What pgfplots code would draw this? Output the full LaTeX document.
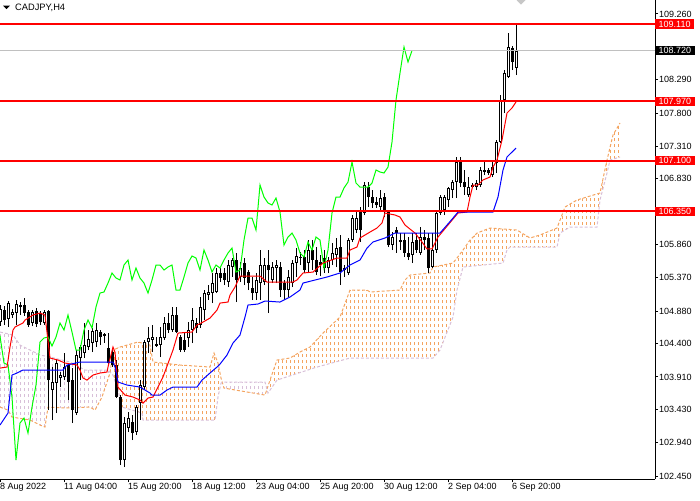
\documentclass[border=0pt]{standalone}
\usepackage{fontspec}
\setmainfont{Liberation Sans}
\usepackage{pgfplots}
\usepackage{pgfplotstable}
\pgfplotsset{compat=1.18}
\usepgfplotslibrary{fillbetween}
\definecolor{sandy}{RGB}{244,164,96}
\definecolor{thistleC}{RGB}{216,191,216}
\definecolor{limeC}{RGB}{0,255,0}
\definecolor{bidgray}{RGB}{192,192,192}
\definecolor{mtred}{RGB}{255,0,0}
\definecolor{mtblue}{RGB}{0,0,255}
\tikzset{hatch/.style={path picture={
  \foreach \k in {0,...,165} {
    \draw[#1, line width=1pt, dash pattern=on 3pt off 3pt]
      ([xshift={4pt*\k}]path picture bounding box.south west) -- ([xshift={4pt*\k}]path picture bounding box.north west);
  }}}}

\pgfplotstableread{
i o h l c
0 104.719 104.970 104.660 104.911
1 104.896 104.955 104.675 104.749
2 104.764 105.029 104.646 104.999
3 104.823 104.911 104.778 104.867
4 104.852 105.044 104.675 104.985
5 104.941 105.014 104.823 104.970
6 104.970 105.073 104.808 104.852
7 104.867 104.896 104.646 104.675
8 104.705 104.896 104.660 104.867
9 104.882 104.926 104.646 104.690
10 104.852 104.882 104.675 104.719
11 104.705 104.896 104.675 104.867
12 104.882 104.896 103.422 103.864
13 103.717 104.056 103.275 103.835
14 103.820 104.159 103.378 104.115
15 103.894 103.982 103.761 103.938
16 103.909 104.262 103.864 104.056
17 104.086 104.115 103.570 103.835
18 103.864 104.041 103.231 103.422
19 103.378 104.307 103.348 104.233
20 104.189 104.380 103.864 104.351
21 104.262 104.705 104.189 104.380
22 104.351 104.601 104.307 104.469
23 104.410 104.631 104.277 104.587
24 104.425 104.705 104.351 104.601
25 104.572 104.601 104.380 104.498
26 104.543 104.557 104.410 104.513
27 104.336 104.557 104.086 104.115
28 104.277 104.336 104.056 104.086
29 104.086 104.159 103.599 103.614
30 103.614 103.643 102.611 102.685
31 102.685 103.319 102.582 103.231
32 103.157 103.393 103.098 103.304
33 103.245 103.348 102.980 103.083
34 103.098 103.496 103.054 103.466
35 103.525 103.864 103.275 103.791
36 103.761 104.454 103.717 104.425
37 104.425 104.646 104.262 104.484
38 104.454 104.675 104.277 104.498
39 104.395 104.498 104.351 104.366
40 104.380 104.646 104.204 104.498
41 104.484 104.793 104.454 104.705
42 104.705 104.852 104.557 104.601
43 104.601 104.941 104.572 104.823
44 104.823 104.941 104.557 104.572
45 104.498 104.528 104.277 104.307
46 104.454 104.572 104.277 104.307
47 104.484 104.719 104.351 104.601
48 104.601 104.926 104.410 104.749
49 104.705 104.778 104.557 104.631
50 104.675 105.088 104.631 104.941
51 104.896 105.191 104.749 105.147
52 105.117 105.265 105.044 105.162
53 105.147 105.442 104.999 105.294
54 105.162 105.515 105.147 105.442
55 105.442 105.515 105.309 105.368
56 105.442 105.515 105.265 105.339
57 105.309 105.633 105.235 105.560
58 105.530 105.663 105.383 105.633
59 105.633 105.737 105.014 105.339
60 105.383 105.604 105.309 105.515
61 105.589 105.663 105.265 105.368
62 105.456 105.486 105.191 105.294
63 105.221 105.383 105.044 105.147
64 105.147 105.442 105.044 105.339
65 105.294 105.781 105.044 105.560
66 105.309 105.663 105.265 105.560
67 105.560 105.781 104.852 105.486
68 105.339 105.604 105.294 105.530
69 105.515 105.633 105.294 105.560
70 105.530 105.604 105.088 105.191
71 105.294 105.339 105.044 105.191
72 105.191 105.486 105.088 105.383
73 105.294 105.633 105.235 105.589
74 105.589 105.810 105.383 105.692
75 105.678 105.751 105.560 105.663
76 105.678 105.781 105.442 105.486
77 105.589 105.928 105.442 105.781
78 105.781 105.928 105.486 105.633
79 105.633 105.825 105.412 105.456
80 105.604 105.707 105.397 105.560
81 105.663 105.781 105.442 105.515
82 105.515 105.678 105.442 105.633
83 105.633 105.884 105.560 105.737
84 105.707 105.958 105.530 105.810
85 105.825 106.002 105.265 105.456
86 105.515 105.560 105.383 105.486
87 105.442 105.958 105.412 105.928
88 105.928 106.297 105.899 106.252
89 106.076 106.341 106.031 106.252
90 106.370 106.415 105.899 106.076
91 106.326 106.783 106.297 106.739
92 106.709 106.783 106.415 106.562
93 106.562 106.665 106.400 106.474
94 106.488 106.562 106.400 106.444
95 106.415 106.665 106.341 106.547
96 106.562 106.621 106.267 106.341
97 106.341 106.370 105.825 105.854
98 105.854 106.046 105.781 105.972
99 106.076 106.120 105.737 106.031
100 105.899 106.031 105.781 105.928
101 105.928 106.031 105.678 105.737
102 105.737 105.972 105.633 105.678
103 105.707 106.031 105.589 105.899
104 105.928 106.031 105.737 105.781
105 105.737 106.120 105.707 105.972
106 105.972 106.076 105.781 105.928
107 105.958 106.031 105.442 105.515
108 105.530 106.031 105.515 105.781
109 105.781 106.341 105.737 106.326
110 106.326 106.592 106.297 106.562
111 106.370 106.592 106.297 106.562
112 106.518 106.709 106.415 106.695
113 106.665 106.813 106.547 106.783
114 106.783 107.152 106.547 107.078
115 107.078 107.152 106.709 106.768
116 106.783 106.960 106.592 106.709
117 106.592 106.857 106.562 106.709
118 106.739 106.768 106.709 106.709
119 106.709 106.813 106.665 106.768
120 106.739 107.004 106.709 106.960
121 106.960 107.078 106.886 106.931
122 106.960 106.990 106.886 106.916
123 106.886 107.107 106.857 107.004
124 107.063 107.402 106.916 107.373
125 107.373 108.066 107.358 107.992
126 107.992 108.434 107.800 108.390
127 108.331 108.980 108.316 108.773
128 108.758 108.788 108.434 108.552
129 108.464 109.112 108.360 108.720
}\candles

\begin{document}
\begin{tikzpicture}
\begin{axis}[
  at={(0pt,0pt)}, anchor=south west,
  scale only axis, width=655pt, height=479pt,
  xmin=0, xmax=163.75, ymin=102.406, ymax=109.466,
  axis x line=bottom, axis y line=right,
  axis line style={-, black, line width=1pt},
  clip mode=individual,
  tick align=outside, major tick length=3pt,
  tick style={black, line width=1pt},
  xtick={0,16,32,48,64,80,96,112,128},
  xticklabels={8 Aug 2022, 11 Aug 04:00, 15 Aug 20:00, 18 Aug 12:00, 23 Aug 04:00, 25 Aug 20:00, 30 Aug 12:00, 2 Sep 04:00, 6 Sep 20:00},
  ytick={102.45,102.94,103.43,103.91,104.40,104.88,105.37,105.86,106.83,107.31,107.80,108.29,109.26},
  tick label style={font=\fontsize{9}{10}\selectfont, black},
  xticklabel style={anchor=north west, inner sep=0pt, xshift=0pt, yshift=-1pt},
  yticklabel style={anchor=west, inner sep=0pt, xshift=1pt},
  /pgf/number format/.cd, fixed, fixed zerofill, precision=3, 1000 sep={}, assume math mode=true,
]

% Ichimoku cloud boundaries
\addplot[name path=senA, sandy, line width=1pt, dash pattern=on 3pt off 2pt, forget plot] coordinates {
(0,103.466) (2,103.422) (3,103.319) (7.5,103.275) (10,103.201) (11.25,103.172) (12,103.466)
(16.25,103.452) (22.5,103.466) (23.75,103.422) (25.5,103.614) (27.5,103.968) (28.25,104.307)
(30,104.351) (34.5,104.425) (37.5,104.380) (38.25,104.130) (45,104.086) (52.5,104.056)
(53.5,104.262) (54.5,104.115) (55.25,103.894) (56,103.746) (66.25,103.643) (67.5,103.864)
(69.25,104.159) (72.5,104.189) (75,104.277) (77.5,104.351) (80.75,104.557) (85,104.793)
(87.5,105.191) (91.75,105.191) (92.5,105.162) (100,105.191) (101.25,105.339) (102.5,105.412)
(107.5,105.442) (108.25,105.530) (113.25,105.589) (114.25,105.663) (115.75,105.781)
(117.5,105.928) (119.25,106.031) (122.5,106.105) (129.25,106.076) (132.5,105.958)
(135,106.002) (139.25,106.105) (141.25,106.415) (144.25,106.518) (150,106.621)
(151.75,107.107) (153.25,107.476) (155,107.653)};
\addplot[name path=senB, thistleC, line width=1pt, dash pattern=on 3pt off 2pt, forget plot] coordinates {
(0,104.572) (3.25,104.528) (5,104.380) (10,104.233) (12.5,104.204) (17.5,104.130)
(21.25,104.012) (27,104.012) (28.25,103.938) (29.5,103.717) (30.5,103.466) (35.5,103.378)
(35.75,103.275) (53.75,103.275) (54.5,103.614) (55.25,103.820) (56,103.835) (66.25,103.835)
(67,103.673) (69.25,103.864) (79.25,104.056) (87.5,104.189) (108.25,104.189) (110,104.307)
(113.25,104.793) (114.25,105.191) (115.75,105.530) (125.75,105.589) (126.75,105.781)
(127.5,105.825) (139.25,105.825) (140,106.031) (142.5,106.120) (149.25,106.120)
(150,106.518) (151.75,106.916) (152.5,107.107) (155,107.152)};
\addplot[draw=none, fill=none, forget plot, hatch=thistleC] fill between[of=senA and senB, soft clip={domain=0:27.52}];
\addplot[draw=none, fill=none, forget plot, hatch=sandy] fill between[of=senA and senB, soft clip={domain=27.52:55.6}];
\addplot[draw=none, fill=none, forget plot, hatch=thistleC] fill between[of=senA and senB, soft clip={domain=55.6:66.6}];
\addplot[draw=none, fill=none, forget plot, hatch=sandy] fill between[of=senA and senB, soft clip={domain=66.6:155}];

% candles: wicks
\addplot[draw=none, mark=none, forget plot,
  error bars/.cd, y dir=plus, y explicit, error mark=none,
  error bar style={draw=black, solid, line width=1pt}]
  table[x=i, y=l, y error plus expr=\thisrow{h}-\thisrow{l}] {\candles};
% candles: bodies
\addplot[draw=none, mark=none, forget plot,
  error bars/.cd, y dir=plus, y explicit, error mark=none,
  error bar style={draw=black, solid, line width=3pt}]
  table[x=i, y expr={min(\thisrow{o},\thisrow{c})}, y error plus expr={abs(\thisrow{c}-\thisrow{o})}] {\candles};
% bullish interiors
\addplot[draw=none, mark=none, forget plot,
  restrict expr to domain={\thisrow{c}-\thisrow{o}}{0.035:100},
  error bars/.cd, y dir=plus, y explicit, error mark=none,
  error bar style={draw=white, solid, line width=1pt}]
  table[x=i, y expr={\thisrow{o}+0.0147}, y error plus expr={\thisrow{c}-\thisrow{o}-0.0295}] {\candles};

% Chikou span
\addplot[limeC, line width=1pt, forget plot] table[x expr=\thisrow{i}-26, y=c] {\candles};

% Tenkan-sen
\addplot[mtred, line width=1pt, forget plot] coordinates {
(0,104.041) (1.75,104.056) (2.5,104.351) (3.25,104.601) (3.75,104.646) (5.75,104.705)
(6.25,104.749) (8.25,104.823) (10,104.852) (11.25,104.823) (12.5,104.189) (14.5,104.159)
(16.25,104.115) (19.25,104.086) (20,104.012) (20.75,103.894) (21.75,103.864) (23.25,103.938)
(25,103.968) (26.75,103.982) (27,104.056) (28.25,104.351) (28.75,104.277) (29.5,103.761)
(31.25,103.643) (33.25,103.614) (35,103.570) (35.75,103.525) (37,103.599) (38.25,103.614)
(39.5,103.761) (40.75,103.909) (43.25,104.307) (44.5,104.557) (48,104.572) (49.25,104.675)
(50.75,104.719) (52.5,104.778) (54.25,104.896) (55,104.999) (57,105.014) (57.5,105.117)
(58.75,105.235) (60,105.397) (65,105.397) (66.75,105.309) (73.25,105.309) (74.25,105.339)
(75.75,105.442) (78.25,105.456) (80.75,105.589) (84.25,105.663) (86.75,105.663)
(87.5,105.781) (89.25,105.825) (90,105.958) (92.5,106.046) (94.25,106.105) (95.5,106.179)
(96.25,106.326) (98.75,106.297) (100,106.267) (101.25,106.149) (103.75,106.031)
(105.5,105.899) (106.75,105.796) (108,105.796) (109.5,105.972) (112,106.149)
(114.5,106.326) (116.75,106.341) (117.5,106.562) (118.25,106.739) (119.5,106.739)
(120.75,106.813) (122.5,106.857) (123.25,107.004) (124.25,107.107) (125.5,107.402)
(126.75,107.800) (128,107.874) (129,107.963)};

% Kijun-sen
\addplot[mtblue, line width=1pt, forget plot] coordinates {
(0,103.201) (2,103.378) (3,103.938) (4.25,103.968) (5.75,104.012) (15.75,104.012)
(16.75,104.086) (20,104.130) (28.25,104.130) (28.75,104.056) (29.5,103.835) (31.75,103.791)
(35,103.761) (37.5,103.673) (38,103.643) (40,103.643) (41.75,103.717) (43.25,103.761)
(49.25,103.761) (50.5,103.864) (52.5,103.968) (54.25,104.056) (55,104.100) (56.75,104.233)
(58.25,104.410) (60,104.528) (61.25,104.793) (62,104.970) (64.5,104.985) (66.25,105.029)
(70,105.014) (72.5,105.088) (75,105.191) (75.75,105.294) (81.75,105.383) (85,105.442)
(87.5,105.560) (90,105.633) (91.75,105.810) (93.25,105.899) (96.25,105.958) (98.75,106.031)
(110,106.031) (111.75,106.149) (113.25,106.252) (114.5,106.341) (123.25,106.341)
(124.5,106.562) (125.75,106.960) (126.75,107.152) (128,107.225) (129,107.284)};

% bid line and horizontal levels
\addplot[bidgray, line width=1pt, forget plot] coordinates {(0,108.72) (163.75,108.72)};
\addplot[mtred, line width=2pt, forget plot] coordinates {(0,109.11) (163.75,109.11)};
\addplot[mtred, line width=2pt, forget plot] coordinates {(0,107.97) (163.75,107.97)};
\addplot[mtred, line width=2pt, forget plot] coordinates {(0,107.10) (163.75,107.10)};
\addplot[mtred, line width=2pt, forget plot] coordinates {(0,106.35) (163.75,106.35)};

\begin{scope}[every node/.style={anchor=west, inner xsep=3.5pt, inner ysep=1.5pt, text=white, font=\fontsize{9}{10}\selectfont}]
\node[fill=mtred] at (axis cs:163.75,109.11) {109.110};
\node[fill=black] at (axis cs:163.75,108.72) {108.720};
\node[fill=mtred] at (axis cs:163.75,107.97) {107.970};
\node[fill=mtred] at (axis cs:163.75,107.10) {107.100};
\node[fill=mtred] at (axis cs:163.75,106.35) {106.350};
\end{scope}
\end{axis}
% chart header
\fill[black] (3pt,473.3pt) -- (10pt,473.3pt) -- (6.5pt,469.8pt) -- cycle;
\node[anchor=base west, inner sep=0pt, font=\fontsize{9.3}{10}\selectfont] at (15pt,468pt) {CADJPY,H4};
\fill[black!22] (516.5pt,479pt) -- (525.5pt,479pt) -- (521pt,474.3pt) -- cycle;
\pgfresetboundingbox
\useasboundingbox (0pt,-21pt) rectangle (700pt,479pt);
\end{tikzpicture}
\end{document}
